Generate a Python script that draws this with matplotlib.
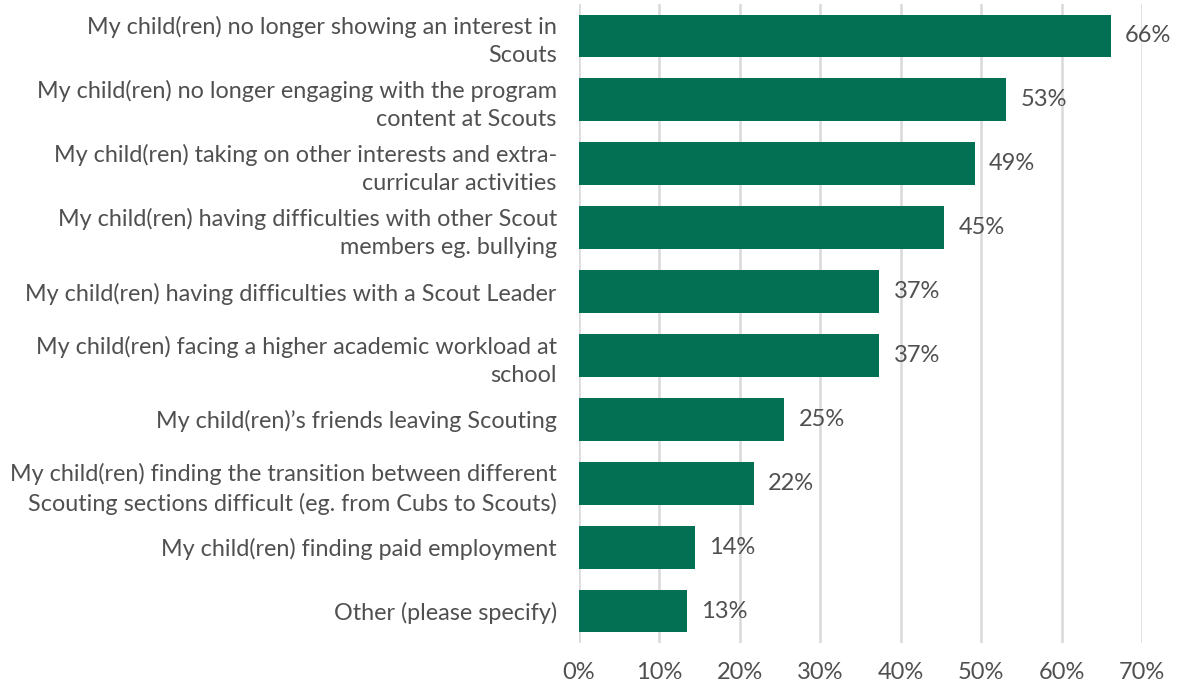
import matplotlib
matplotlib.use("Agg")
import matplotlib.pyplot as plt
from matplotlib.ticker import FuncFormatter

categories = [
    "My child(ren) no longer showing an interest in\nScouts",
    "My child(ren) no longer engaging with the program\ncontent at Scouts",
    "My child(ren) taking on other interests and extra-\ncurricular activities",
    "My child(ren) having difficulties with other Scout\nmembers eg. bullying",
    "My child(ren) having difficulties with a Scout Leader",
    "My child(ren) facing a higher academic workload at\nschool",
    "My child(ren)\u2019s friends leaving Scouting",
    "My child(ren) finding the transition between different\nScouting sections difficult (eg. from Cubs to Scouts)",
    "My child(ren) finding paid employment",
    "Other (please specify)",
]
values = [66.1, 53.1, 49.2, 45.4, 37.3, 37.3, 25.5, 21.7, 14.4, 13.4]
labels = ["66%", "53%", "49%", "45%", "37%", "37%", "25%", "22%", "14%", "13%"]
xticks = [0, 10, 20, 30, 40, 50, 60, 70]

plt.rcParams['font.family'] = ['Lato', 'DejaVu Sans']
text_color = "#505050"
bar_color = "#037054"

fig = plt.figure(figsize=(11.79, 6.83), dpi=100)
ax = fig.add_axes([579/1179, 1-643/683, (1142-579)/1179, 639/683])

ypos = list(range(len(categories)))
ax.barh(ypos, values, height=0.67, color=bar_color, zorder=3)
for y, v, lab in zip(ypos, values, labels):
    ax.text(v + 1.8, y, lab, va='center', ha='left', fontsize=17,
            color=text_color, clip_on=False)

ax.set_ylim(len(categories) - 0.5, -0.5)
ax.set_xlim(0, 70)
ax.set_yticks(ypos)
ax.set_yticklabels(categories, fontsize=16.8, color=text_color,
                   linespacing=1.4, ha='right')
ax.set_xticks(xticks)
ax.xaxis.set_major_formatter(FuncFormatter(lambda x, p: f"{int(x)}%"))
ax.tick_params(axis='x', length=0, pad=14, labelsize=17, labelcolor=text_color)
ax.tick_params(axis='y', length=0, pad=16)
ax.grid(axis='x', color="#d9d9d9", linewidth=1.8, zorder=0)
for s in ax.spines.values():
    s.set_visible(False)

fig.savefig("out.png", dpi=100)
